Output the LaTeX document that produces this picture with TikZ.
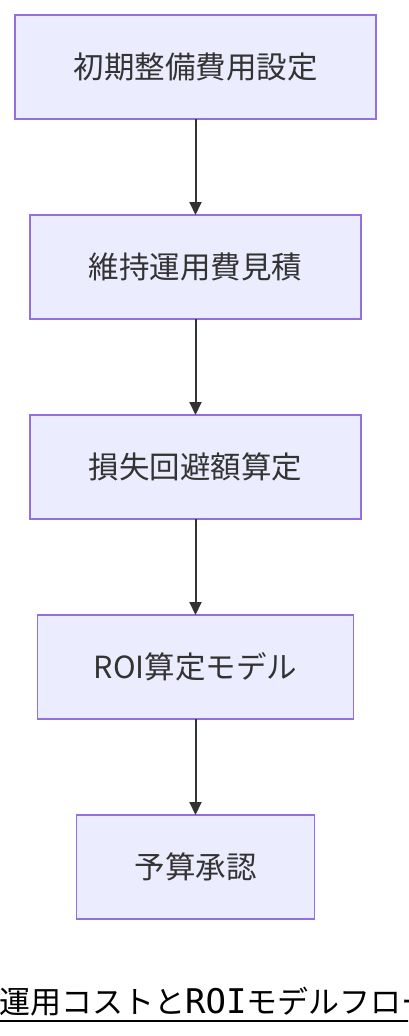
\documentclass[tikz,border=0pt]{standalone}
\usepackage{fontspec}
\setmainfont{Noto Sans CJK JP}
\newfontfamily\monofont{DejaVu Sans Mono}
\usetikzlibrary{positioning,arrows.meta}
\definecolor{boxfill}{HTML}{ECECFF}
\definecolor{boxline}{HTML}{9370DB}
\definecolor{ink}{HTML}{333333}
\tikzset{
  flow box/.style={
    fill=boxfill,
    draw=boxline,
    line width=1.5pt,
    minimum width={#1pt},
    minimum height=104pt,
    inner sep=0pt,
    outer sep=0pt,
    text=ink,
    font=\fontsize{30.5}{34}\selectfont,
  },
  flow arrow/.style={
    draw=ink,
    line width=2pt,
    -{Triangle[length=13pt,width=12pt]},
  },
  caption/.style={
    anchor=base west,
    inner sep=0pt,
    font=\fontsize{31}{34}\selectfont,
  }
}

\begin{document}
\begin{tikzpicture}[node distance=96pt]
        \clip (0,0) rectangle (408pt,-1036pt);
        \useasboundingbox (0,0) rectangle (408pt,-1036pt);

        \node [flow box=361] (setup) at (195.5pt,-67pt) {初期整備費用設定};
        \node [flow box=331, below=of setup] (upkeep) {維持運用費見積};
        \node [flow box=331, below=of upkeep] (loss) {損失回避額算定};
        \node [flow box=316, below=of loss] (roi) {ROI算定モデル};
        \node [flow box=238, below=of roi] (approve) {予算承認};

        \draw [flow arrow] (setup) -- (upkeep);
        \draw [flow arrow] (upkeep) -- (loss);
        \draw [flow arrow] (loss) -- (roi);
        \draw [flow arrow] (roi) -- (approve);

        \node [caption] (title) at (-1pt,-1013pt) {運用コストと{\monofont\fontsize{34}{34}\selectfont ROI}モデルフロー};
        \coordinate (line end) at (420pt,-1021pt);
        \draw [line width=2pt] (title.base west |- line end) -- (line end);
      \end{tikzpicture}
\end{document}
